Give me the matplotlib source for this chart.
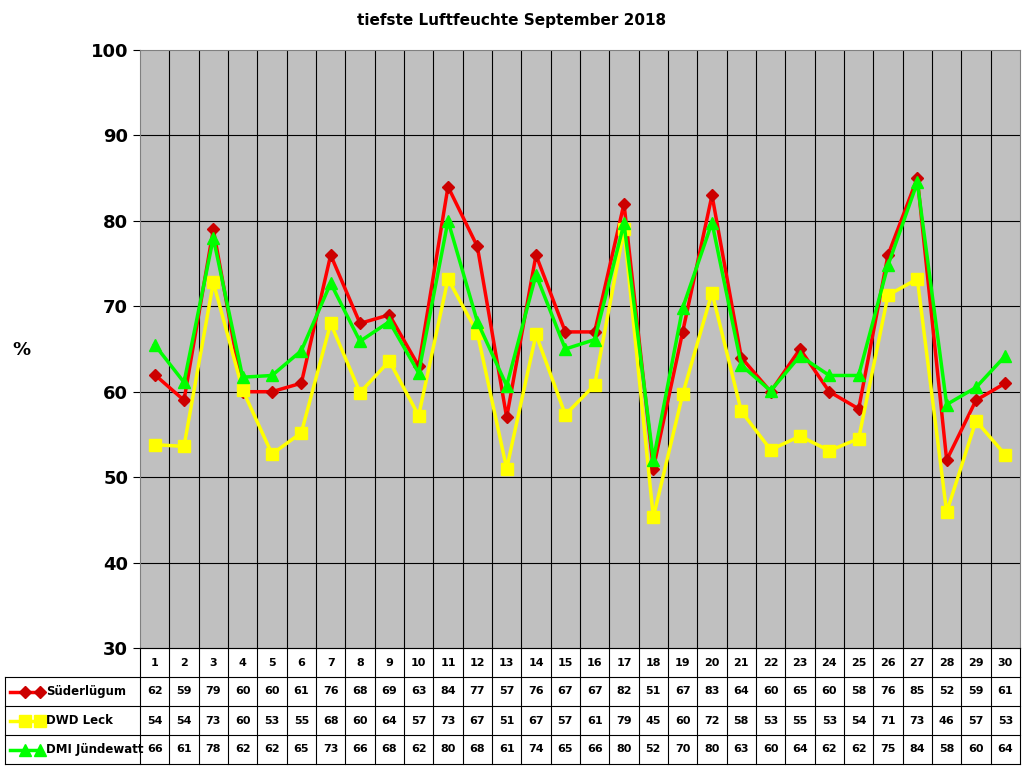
import numpy as np
import matplotlib.pyplot as plt
from matplotlib.lines import Line2D

days = list(range(1, 31))
suederluegum = [62, 59, 79, 60, 60, 61, 76, 68, 69, 63, 84, 77, 57, 76, 67, 67, 82, 51, 67, 83,
                64, 60, 65, 60, 58, 76, 85, 52, 59, 61]
dwd_leck = [53.8, 53.6, 72.8, 60.2, 52.7, 55.2, 68.0, 59.9, 63.6, 57.2, 73.2, 66.9, 51.0, 66.7, 57.3,
            60.8, 79.0, 45.3, 59.7, 71.6, 57.7, 53.2, 54.8, 53.1, 54.5, 71.3, 73.2, 45.9, 56.6, 52.6]
dmi = [65.5, 61.1, 78.0, 61.7, 61.9, 64.8, 72.7, 65.9, 68.2, 62.2, 80.0, 68.2, 60.7, 73.7, 65.0,
       66.1, 79.7, 52.0, 69.8, 79.8, 63.1, 60.1, 64.2, 61.9, 61.9, 74.8, 84.5, 58.5, 60.5, 64.2]
series = [("Süderlügum", suederluegum, "#FF0000", "#CC0000", "D", 6),
          ("DWD Leck", dwd_leck, "#FFFF00", "#FFFF00", "s", 8),
          ("DMI Jündewatt", dmi, "#00FF00", "#00FF00", "^", 8)]

W, H = 1024, 768
fig = plt.figure(figsize=(W / 100, H / 100), dpi=100)
ax = fig.add_axes([140 / W, 1 - 648 / H, 880 / W, 598 / H])
ax.set_facecolor("#C0C0C0")
n = len(days)
x = np.arange(n) + 0.5
for name, vals, lc, mc, m, ms in series:
    ax.plot(x, vals, color=lc, lw=2.5, marker=m, ms=ms, mfc=mc, mec=mc, zorder=3)
ax.set_xlim(0, n)
ax.set_ylim(30, 100)
ax.set_xticks([])
ax.set_yticks(range(30, 101, 10))
ax.tick_params(axis="y", labelsize=13, length=5, direction="out")
for lab in ax.get_yticklabels():
    lab.set_fontweight("bold")
for i in range(1, n):
    ax.axvline(i, color="black", lw=0.8, zorder=1)
for v in range(40, 100, 10):
    ax.axhline(v, color="black", lw=0.8, zorder=1)
for s in ax.spines.values():
    s.set_color("#808080")
fig.text(12 / W, 1 - 350 / H, "%", fontsize=13, fontweight="bold", va="center")
fig.text(512 / W, 1 - 20 / H, "tiefste Luftfeuchte September 2018", fontsize=11,
         fontweight="bold", ha="center", va="center")

# data table drawn in figure pixel coordinates
def fx(px):
    return px / W

def fy(py):
    return 1 - py / H

rows = [648, 677, 706, 735, 764]
left, x0, x1 = 5, 140, 1020
cw = (x1 - x0) / n
lines = []
for r in rows:
    lines.append(Line2D([fx(x0 if r == rows[0] else left), fx(x1)], [fy(r), fy(r)], color="black", lw=0.8))
lines.append(Line2D([fx(left), fx(left)], [fy(rows[1]), fy(rows[-1])], color="black", lw=0.8))
for i in range(n + 1):
    xp = x0 + i * cw
    lines.append(Line2D([fx(xp), fx(xp)], [fy(rows[0]), fy(rows[-1])], color="black", lw=0.8))
for l in lines:
    fig.add_artist(l)
for i, d in enumerate(days):
    fig.text(fx(x0 + (i + 0.5) * cw), fy((rows[0] + rows[1]) / 2), str(d), fontsize=8,
             fontweight="bold", ha="center", va="center")
for k, (name, vals, lc, mc, m, ms) in enumerate(series):
    yc = fy((rows[k + 1] + rows[k + 2]) / 2)
    fig.add_artist(Line2D([fx(10), fx(40)], [yc, yc], color=lc, lw=2.5, marker=m,
                          markevery=[1], ms=ms, mfc=mc, mec=mc))
    fig.add_artist(Line2D([fx(25)], [yc], marker=m, ms=ms, mfc=mc, mec=mc))
    fig.text(fx(46), yc, name, fontsize=8.5, fontweight="bold", va="center")
    for i, v in enumerate(vals):
        fig.text(fx(x0 + (i + 0.5) * cw), yc, f"{v:.0f}", fontsize=8, fontweight="bold",
                 ha="center", va="center")

fig.savefig("out.png", dpi=100)
